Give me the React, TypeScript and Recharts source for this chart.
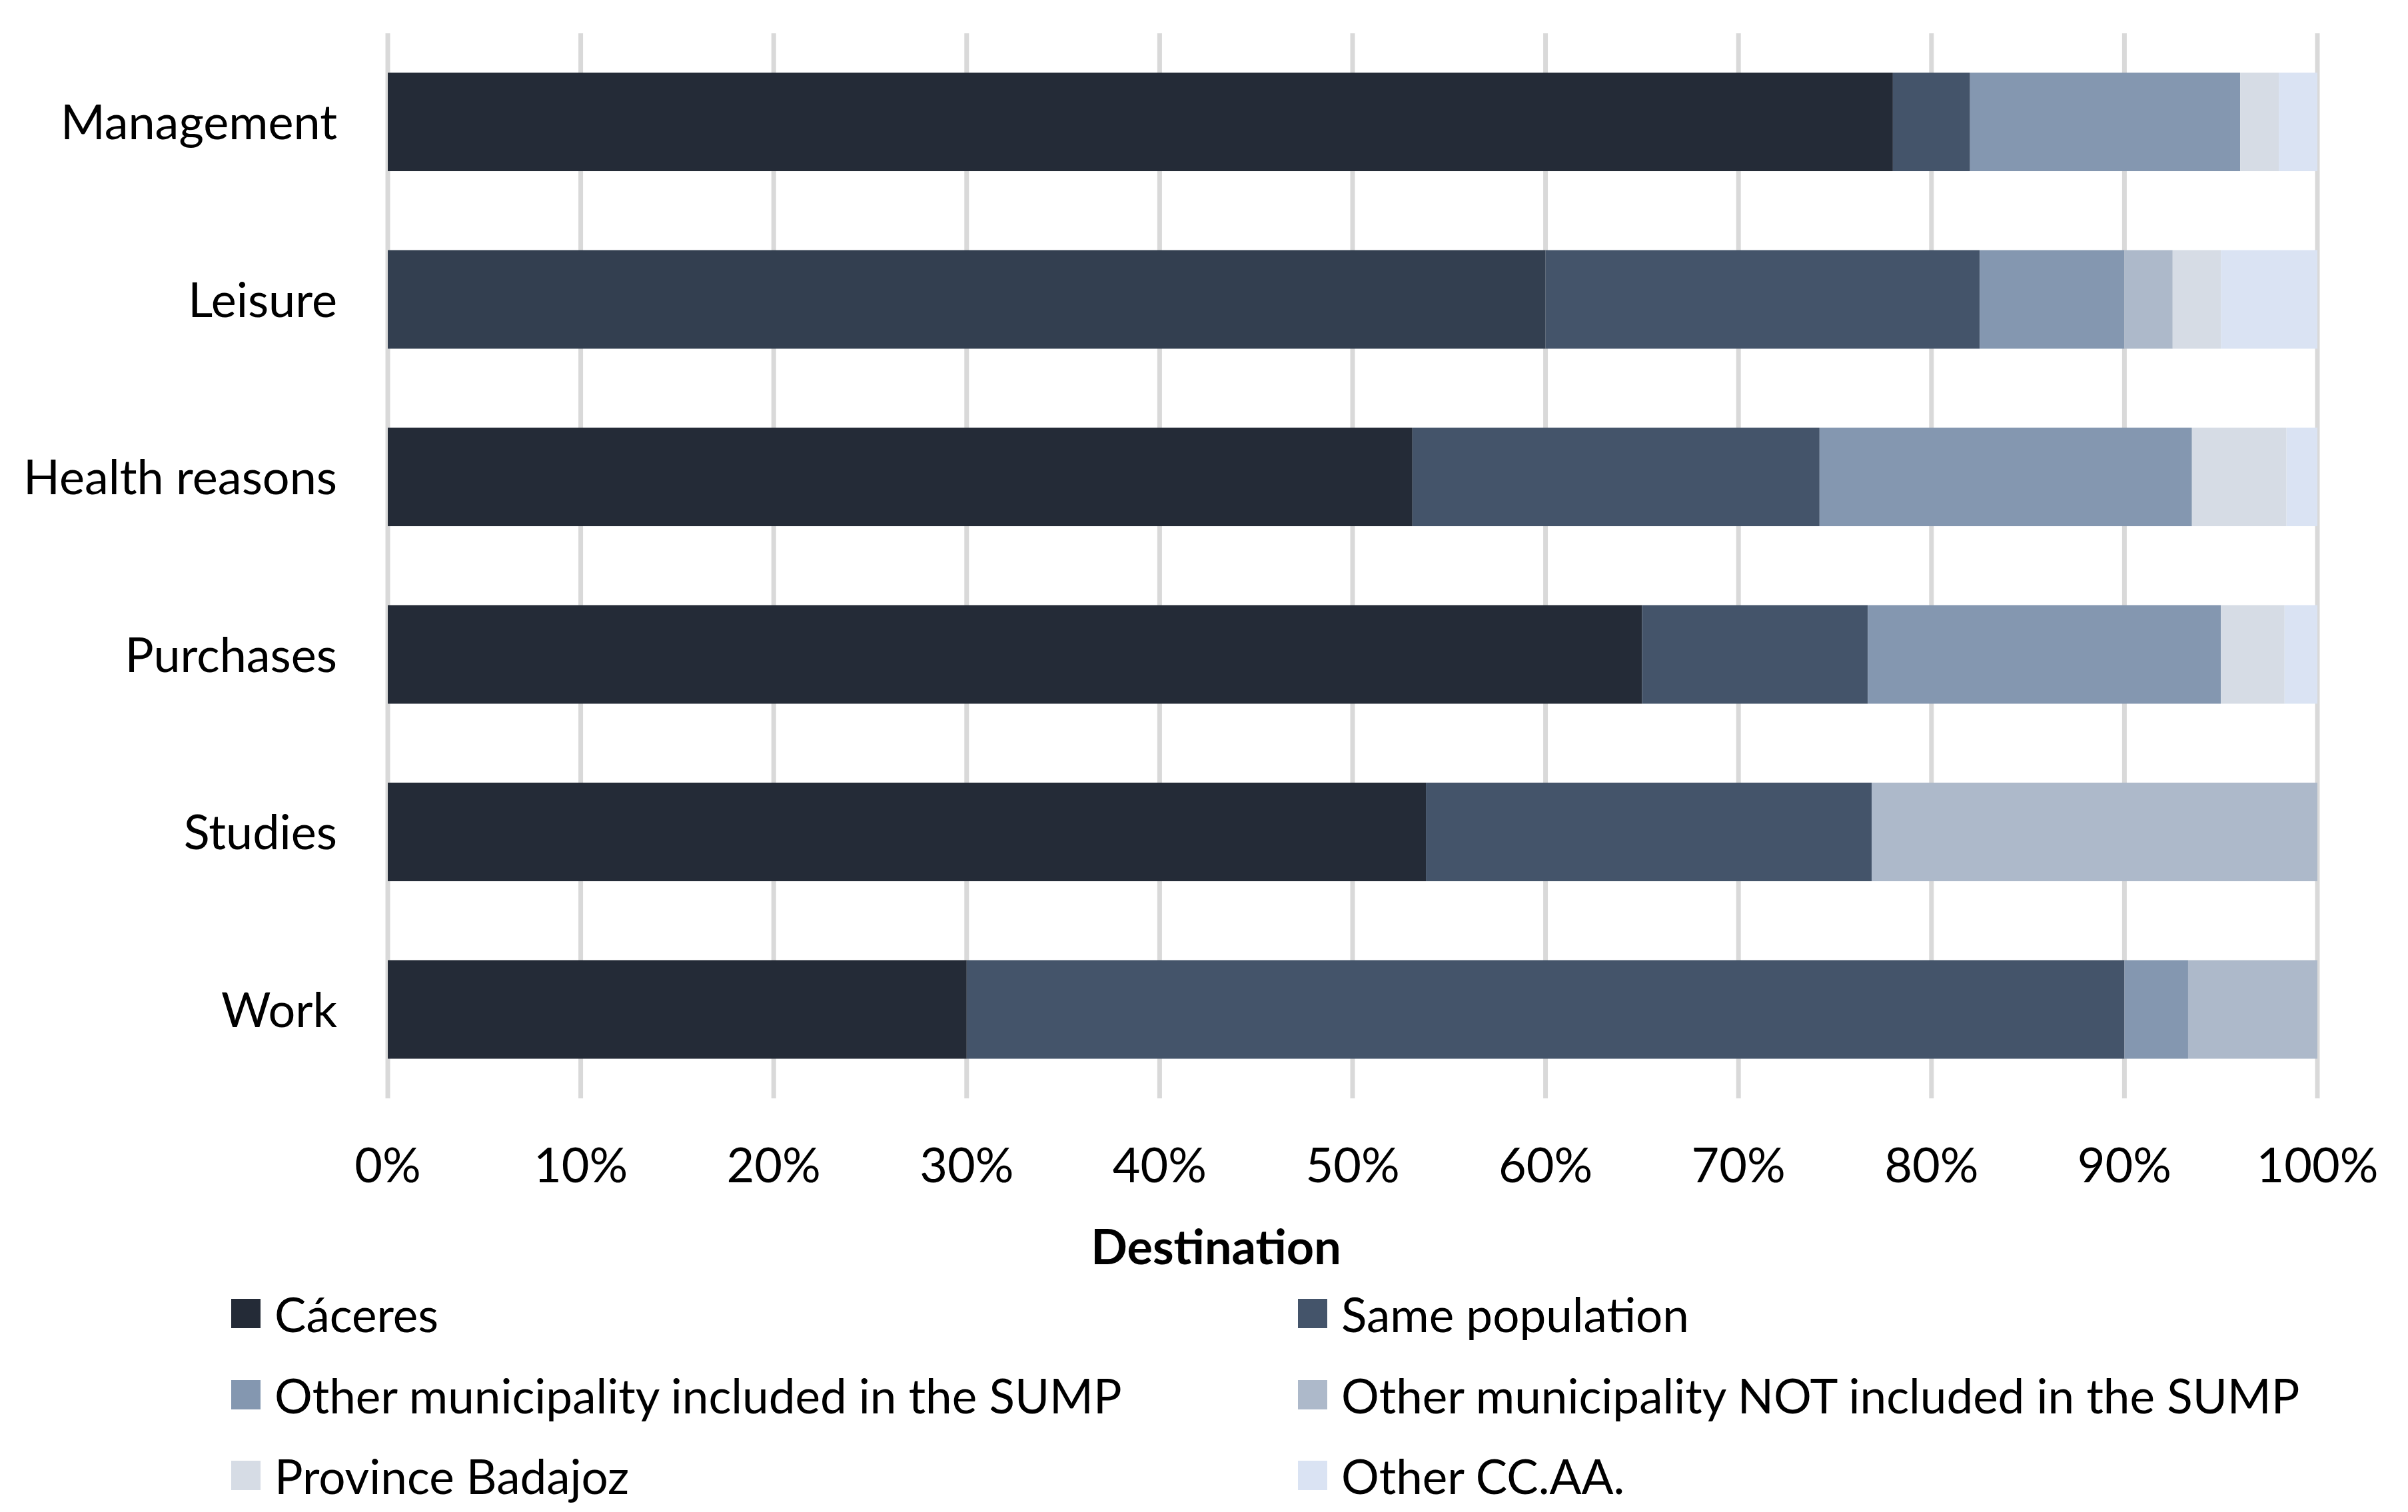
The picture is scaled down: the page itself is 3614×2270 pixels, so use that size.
import { BarChart, Bar, XAxis, YAxis, CartesianGrid, Cell } from 'recharts'

const categories = ['Management', 'Leisure', 'Health reasons', 'Purchases', 'Studies', 'Work']

// share of trips (%) by destination
const caceres = [78, 60, 53.1, 65, 53.8, 30]
const samePopulation = [4, 22.5, 21.1, 11.7, 23.1, 60]
const includedSump = [14, 7.5, 19.3, 18.3, 0, 3.3]
const notIncludedSump = [0, 2.5, 0, 0, 23.1, 6.7]
const provinceBadajoz = [2, 2.5, 4.9, 3.3, 0, 0]
const otherCcaa = [2, 5, 1.6, 1.7, 0, 0]

const xTicks = [0, 10, 20, 30, 40, 50, 60, 70, 80, 90, 100]

const series = [
  { key: 'caceres', name: 'Cáceres', color: '#242B37', values: caceres },
  { key: 'same', name: 'Same population', color: '#44546A', values: samePopulation },
  { key: 'incl', name: 'Other municipality included in the SUMP', color: '#8497B0', values: includedSump },
  { key: 'notIncl', name: 'Other municipality NOT included in the SUMP', color: '#ADB9CA', values: notIncludedSump },
  { key: 'badajoz', name: 'Province Badajoz', color: '#D6DCE5', values: provinceBadajoz },
  { key: 'ccaa', name: 'Other CC.AA.', color: '#DAE3F3', values: otherCcaa },
]

// Leisure's Cáceres segment is drawn in a different shade in the source
const cellOverrides: Record<string, string> = { Leisure: '#333F50' }

const data = categories.map((name, i) => {
  const row: Record<string, string | number> = { name }
  for (const s of series) row[s.key] = s.values[i]
  return row
})

const FONT = 'Lato, "Open Sans", sans-serif'
const FONT_SIZE = 72

function YTick({ x, y, payload }: any) {
  return (
    <text x={x} y={y} dy='0.36em' textAnchor='end' fontFamily={FONT} fontSize={FONT_SIZE} fill='#000'>
      {payload.value}
    </text>
  )
}

function XTick({ x, y, payload }: any) {
  return (
    <text x={x} y={y} textAnchor='middle' fontFamily={FONT} fontSize={FONT_SIZE} fill='#000'>
      {`${payload.value}%`}
    </text>
  )
}

export default function App() {
  return (
    <div style={{ position: 'relative', width: 3614, height: 2270, background: '#fff', fontFamily: FONT }}>
      <style>{'body{margin:0}'}</style>
      <BarChart
        width={3614}
        height={1800}
        data={data}
        layout='vertical'
        margin={{ top: 50, right: 136, left: 0, bottom: 0 }}
      >
        <CartesianGrid horizontal={false} stroke='#D9D9D9' strokeWidth={7} />
        <XAxis
          type='number'
          domain={[0, 100]}
          ticks={xTicks}
          interval={0}
          height={151}
          axisLine={false}
          tickLine={false}
          tickSize={0}
          tickMargin={126}
          tick={<XTick />}
        />
        <YAxis
          type='category'
          dataKey='name'
          width={582}
          axisLine={false}
          tickLine={false}
          tickSize={0}
          tickMargin={76}
          tick={<YTick />}
        />
        {series.map((s) => (
          <Bar key={s.key} dataKey={s.key} name={s.name} stackId='a' fill={s.color} barSize={148} isAnimationActive={false}>
            {s.key === 'caceres' &&
              categories.map((c) => <Cell key={c} fill={cellOverrides[c] ?? s.color} />)}
          </Bar>
        ))}
      </BarChart>

      <div
        style={{
          position: 'absolute',
          left: 1825,
          top: 1906,
          transform: 'translate(-50%, -100%)',
          fontSize: FONT_SIZE,
          fontWeight: 700,
          lineHeight: 1,
          color: '#000',
          whiteSpace: 'nowrap',
        }}
      >
        Destination
      </div>

      {series.map((s, i) => {
        const col = i % 2
        const row = Math.floor(i / 2)
        const left = col === 0 ? 347 : 1948
        const top = 1950 + row * 121.5
        return (
          <div key={s.key} style={{ position: 'absolute', left, top, height: 44, display: 'flex', alignItems: 'flex-end' }}>
            <div style={{ width: 44, height: 44, background: s.color, flex: 'none' }} />
            <div
              style={{
                marginLeft: 21,
                fontSize: 71,
                lineHeight: 1,
                color: '#000',
                whiteSpace: 'nowrap',
                transform: 'translateY(0.2em)',
              }}
            >
              {s.name}
            </div>
          </div>
        )
      })}
    </div>
  )
}
